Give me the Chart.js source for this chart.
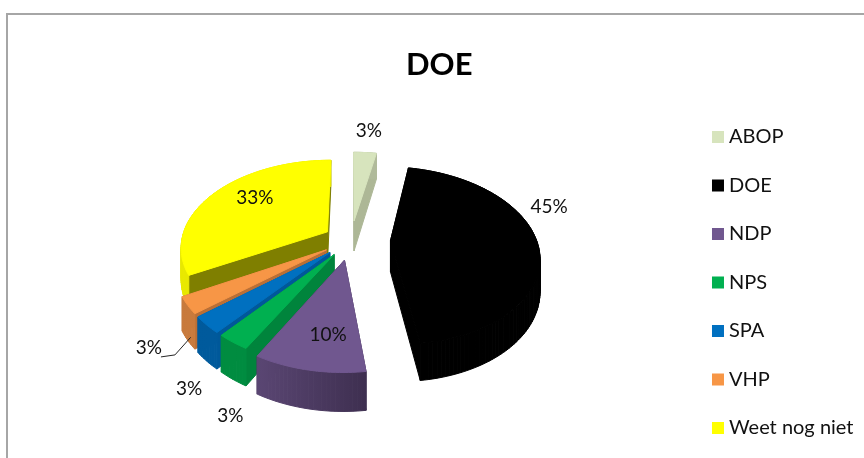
<!DOCTYPE html>
<html>
<head>
<meta charset="utf-8">
<style>html,body{margin:0;padding:0;background:#fff}#w{width:864px;height:458px}</style>
<script src="https://cdn.jsdelivr.net/npm/chart.js@4"></script>
</head>
<body>
<div id="w"><canvas id="c" width="864" height="458"></canvas></div>
<script>
const categories = ['ABOP','DOE','NDP','NPS','SPA','VHP','Weet nog niet'];
const values = [3,45,10,3,3,3,33];
const chartTitle = 'DOE';
const explosion = [0.23,0.27,0.23,0.2,0.2,0.2,0.19];
const topColors = ['#d7e4bd','#000000','#70578f','#00b050','#0070c0','#f79646','#ffff00'];
const rimStart = ['#b0ba9a','#000000','#5a4673','#008c40','#005a9c','#c87a3c','#e8e800'];
const rimEnd   = ['#b0ba9a','#000000','#3e2f50','#008c40','#005a9c','#c87a3c','#e8e800'];
const wallColors = ['#adb796','#000000','#3e2f50','#00843c','#00589a','#b96f36','#7f7f00'];
const labelRadius = [1.61,1.506,0.942,1.646,1.597,1.545,0.892];
const labelAngle  = [5.5,74.2,188.1,202,212.6,227.8,306.6];

const cam = {cx:351, cy:240, rx:146, ry:86, k:1/6, depth:31};
function project(x,y){
  const f = 1/(1-cam.k*y);
  return {x:cam.cx+x*cam.rx*f, y:cam.cy+y*cam.ry*f, d:cam.depth*f};
}
const slice3d = {
  id:'slice3d',
  beforeDraw(chart){
    const ctx = chart.ctx;
    ctx.save();
    ctx.fillStyle='#ffffff'; ctx.fillRect(0,0,chart.width,chart.height);
    ctx.strokeStyle='#a6a6a6'; ctx.lineWidth=2;
    ctx.beginPath(); ctx.moveTo(7,chart.height+2); ctx.lineTo(7,14); ctx.lineTo(chart.width+2,14); ctx.stroke();
    ctx.restore();
  },
  beforeDatasetsDraw(chart){
    const ctx = chart.ctx, arcs = chart.getDatasetMeta(0).data;
    const shapes = arcs.map((arc,i)=>{
      const mid=(arc.startAngle+arc.endAngle)/2, e=explosion[i];
      const ox=Math.cos(mid)*e, oy=Math.sin(mid)*e;
      const pts=[]; const n=Math.max(6,Math.ceil((arc.endAngle-arc.startAngle)*40));
      for(let j=0;j<=n;j++){
        const a=arc.startAngle+(arc.endAngle-arc.startAngle)*j/n;
        pts.push(project(ox+Math.cos(a),oy+Math.sin(a)));
      }
      return {i,mid,pts,apex:project(ox,oy)};
    }).sort((a,b)=>Math.sin(a.mid)-Math.sin(b.mid));
    const poly=(p,c)=>{ctx.fillStyle=c;ctx.strokeStyle=c;ctx.lineWidth=1;ctx.lineJoin='round';ctx.beginPath();p.forEach((q,k)=>k?ctx.lineTo(q.x,q.y):ctx.moveTo(q.x,q.y));ctx.closePath();ctx.fill();ctx.stroke();};
    const down=q=>({x:q.x,y:q.y+q.d});
    shapes.forEach(s=>{
      const first=s.pts[0], last=s.pts[s.pts.length-1];
      const g=ctx.createLinearGradient(Math.min(first.x,last.x),0,Math.max(first.x,last.x),0);
      g.addColorStop(0,rimStart[s.i]); g.addColorStop(1,rimEnd[s.i]);
      poly([s.apex,first,down(first),down(s.apex)],wallColors[s.i]);
      poly([s.apex,last,down(last),down(s.apex)],wallColors[s.i]);
      for(let j=0;j<s.pts.length-1;j++){
        poly([s.pts[j],s.pts[j+1],down(s.pts[j+1]),down(s.pts[j])],g);
      }
      poly([s.apex,...s.pts],topColors[s.i]);
    });
    return false;
  },
  afterDraw(chart){
    const ctx=chart.ctx;
    ctx.save();
    ctx.font='19px Lato, sans-serif'; ctx.fillStyle='#111111'; ctx.textAlign='center'; ctx.textBaseline='middle';
    values.forEach((v,i)=>{
      const a=labelAngle[i]*Math.PI/180;
      const p=project(Math.sin(a)*labelRadius[i],-Math.cos(a)*labelRadius[i]);
      ctx.fillText(v+'%',p.x,p.y);
      if(categories[i]==='VHP'){
        const arc=chart.getDatasetMeta(0).data[i], m=(arc.startAngle+arc.endAngle)/2;
        const r=project(Math.cos(m)*(1+explosion[i]),Math.sin(m)*(1+explosion[i]));
        ctx.strokeStyle='#262626'; ctx.lineWidth=1;
        ctx.beginPath(); ctx.moveTo(p.x+12,p.y+9); ctx.lineTo(p.x+26,p.y+7); ctx.lineTo(r.x+3,r.y+r.d-3); ctx.stroke();
      }
    });
    ctx.restore();
  }
};
new Chart(document.getElementById('c'),{
  type:'pie',
  data:{labels:categories,datasets:[{data:values,backgroundColor:topColors,borderWidth:0}]},
  plugins:[slice3d],
  options:{
    responsive:false,animation:false,
    layout:{padding:{top:46,right:0.5,bottom:-61,left:15}},
    plugins:{
      tooltip:{enabled:false},
      title:{display:true,text:chartTitle,align:'center',color:'#000',
        font:{family:'Lato, sans-serif',size:31,weight:'bold'},padding:{top:0,bottom:0}},
      legend:{position:'right',labels:{usePointStyle:true,pointStyle:'rect',boxWidth:2,boxHeight:12,padding:28.5,color:'#111111',font:{family:'Lato, sans-serif',size:20}}}
    }
  }
});
</script>
</body>
</html>
